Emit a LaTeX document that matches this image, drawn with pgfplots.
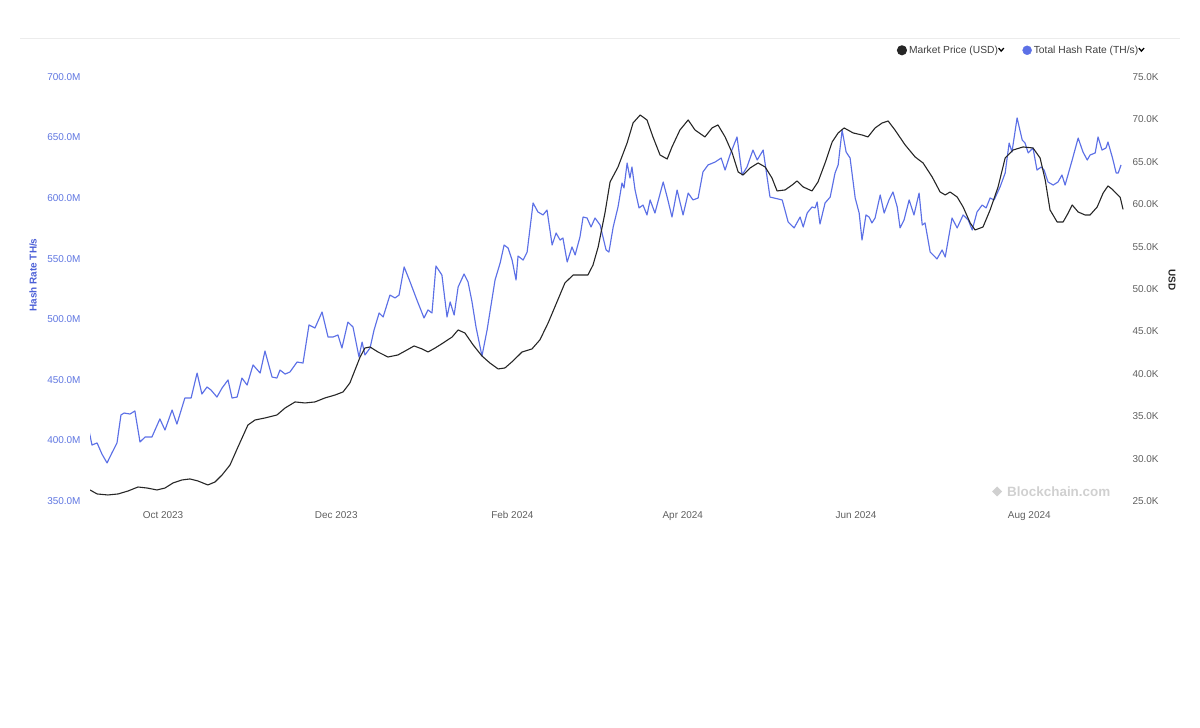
\documentclass[border=0pt]{standalone}
\usepackage{fontspec}
\setmainfont{Liberation Sans}
\usepackage{pgfplots}
\usepackage{pgfplotstable}
\pgfplotsset{compat=1.18}
\definecolor{hashblue}{RGB}{92,112,230}
\definecolor{ticklblue}{RGB}{95,118,225}
\definecolor{labblue}{RGB}{75,95,215}
\definecolor{tickgray}{RGB}{95,95,95}
\definecolor{rulegray}{RGB}{236,236,236}
\definecolor{wmgray}{RGB}{208,208,208}

% days since 1 Oct 2023, hash rate in millions of TH/s
\pgfplotstableread{
d m
-26.1 408.6
-25.0 396.2
-23.2 397.9
-21.5 388.8
-19.7 381.4
-18.0 389.6
-16.2 397.9
-14.8 421.0
-13.7 422.6
-11.6 421.8
-9.9 424.3
-8.1 398.7
-6.3 402.8
-3.9 402.8
-1.1 417.7
0.7 408.6
3.2 425.1
4.9 413.5
7.7 435.0
9.9 435.0
12.0 455.6
13.7 438.3
15.5 444.1
16.9 441.6
19.0 435.8
20.8 443.3
22.9 449.9
24.3 435.0
26.1 435.8
27.8 451.5
29.6 445.7
31.7 462.3
34.2 455.6
35.9 473.8
38.4 452.3
40.1 451.5
41.2 458.1
43.0 454.8
44.7 456.5
47.2 464.7
49.3 463.9
51.4 495.3
53.5 492.8
56.0 506.0
58.1 485.4
59.9 485.4
61.6 487.0
63.0 476.3
65.1 497.7
66.9 493.6
69.0 468.9
70.1 481.2
71.1 470.5
72.9 476.3
74.3 491.1
76.1 505.2
77.5 501.9
79.9 520.0
81.7 517.6
83.1 520.0
84.9 543.2
87.0 530.8
89.4 515.9
91.9 501.1
93.3 507.7
94.7 505.2
96.1 544.0
98.2 536.5
100.0 501.9
101.1 514.3
102.5 503.5
103.9 526.6
106.0 537.4
107.4 530.8
108.8 514.3
110.2 493.6
112.3 469.7
114.1 491.1
116.9 532.4
118.7 546.5
120.1 561.3
121.5 558.8
122.9 548.9
124.3 532.4
125.0 552.2
126.8 548.9
128.2 555.5
130.3 596.0
132.0 588.6
133.8 586.1
135.2 590.2
137.0 561.3
138.4 571.2
139.8 565.4
140.8 567.1
142.3 547.3
144.0 559.7
145.1 553.1
146.8 567.9
147.9 584.4
149.3 583.6
150.7 576.2
152.1 583.6
153.9 577.8
156.0 557.2
157.0 555.5
158.5 576.2
160.2 592.7
161.6 612.5
162.3 608.4
163.4 629.0
164.4 616.6
165.1 625.7
166.2 606.7
167.6 591.9
169.0 594.3
170.4 586.1
171.5 598.5
173.2 587.7
176.1 613.3
177.5 600.9
179.2 584.4
181.0 606.7
183.1 586.1
184.9 604.2
186.6 598.5
188.4 600.1
190.1 621.6
191.9 627.4
194.4 629.8
196.5 633.1
197.9 623.2
199.6 635.6
202.1 650.5
203.9 619.1
205.6 625.7
207.7 639.7
209.2 631.5
211.3 639.7
213.7 600.9
218.0 598.5
220.1 580.3
222.2 575.4
224.3 584.4
225.4 576.2
226.8 587.7
228.5 592.7
229.6 591.9
230.3 596.8
231.3 578.6
233.1 596.0
234.9 600.9
236.6 620.7
237.7 627.4
239.1 656.2
240.5 638.1
241.9 633.1
243.7 600.1
245.1 587.7
246.1 565.4
247.5 586.1
248.6 584.4
249.6 579.5
250.7 583.6
252.5 602.6
253.9 587.7
255.6 598.5
257.0 605.1
258.5 592.7
259.5 575.4
260.9 582.0
262.7 598.5
264.4 586.1
266.2 604.2
267.3 577.8
268.3 579.5
270.1 555.5
272.5 549.8
274.3 557.2
275.4 551.4
277.8 583.6
279.6 575.4
281.7 586.1
283.5 582.0
284.9 573.7
286.6 588.6
288.4 594.3
289.8 591.9
291.2 600.1
292.6 598.5
294.7 609.2
296.5 620.7
297.9 645.5
298.9 638.1
300.7 666.2
302.5 648.0
303.5 645.5
304.6 637.3
306.3 641.4
307.7 623.2
309.2 625.7
310.2 623.2
311.6 613.3
313.4 610.8
315.1 613.3
316.5 619.1
317.6 610.8
320.1 631.5
322.2 649.6
323.9 638.1
325.4 631.5
326.4 635.6
328.2 637.3
329.2 650.5
330.6 639.7
332.0 641.4
332.7 646.3
334.2 633.9
335.6 620.7
336.3 620.7
337.3 627.4
}\hashtable

% days since 1 Oct 2023, market price in thousands of USD
\pgfplotstableread{
d k
-25.7 26.30
-23.2 25.83
-19.4 25.71
-15.8 25.83
-12.3 26.18
-8.8 26.65
-5.6 26.53
-2.1 26.30
0.7 26.53
3.5 27.12
6.7 27.48
9.5 27.60
12.3 27.36
15.8 26.89
18.3 27.24
20.8 28.07
23.6 29.25
26.4 31.37
29.9 33.96
32.4 34.55
35.9 34.79
40.1 35.14
43.0 35.97
46.5 36.68
50.0 36.56
53.5 36.68
57.0 37.15
60.6 37.50
63.4 37.86
65.8 38.92
67.6 40.45
69.4 41.98
71.1 43.04
72.9 43.16
75.7 42.57
79.2 41.98
82.7 42.22
85.9 42.81
88.4 43.28
91.2 42.93
93.3 42.57
95.8 43.04
98.6 43.63
101.8 44.34
103.9 45.17
106.3 44.81
109.2 43.40
112.3 42.10
115.1 41.27
118.0 40.57
120.4 40.69
123.2 41.51
126.4 42.57
129.9 42.93
132.7 44.00
135.6 46.00
138.7 48.47
141.5 50.71
144.4 51.65
147.5 51.65
149.6 51.65
151.4 52.83
153.2 54.95
155.6 58.96
157.4 62.62
160.2 64.39
163.4 67.22
165.5 69.58
168.0 70.52
170.4 69.93
172.5 67.93
175.0 65.80
177.5 65.33
179.2 66.75
182.0 68.75
184.9 69.93
187.3 68.75
190.8 67.93
193.3 68.99
195.4 69.34
197.9 67.93
200.4 66.04
202.5 63.80
204.2 63.44
206.7 64.27
209.5 64.86
212.0 64.39
214.4 63.09
216.2 61.56
219.0 61.68
221.5 62.26
223.2 62.74
225.4 62.03
228.5 61.56
230.6 62.62
233.1 64.86
235.6 67.34
237.7 68.40
239.8 68.99
243.0 68.40
246.1 68.16
248.2 67.93
250.7 68.99
253.2 69.58
255.3 69.81
257.7 68.75
261.3 66.98
264.8 65.57
267.6 64.86
270.8 63.21
273.6 61.44
275.4 61.09
277.1 61.44
279.6 60.85
281.7 59.67
284.2 57.78
285.9 56.96
288.7 57.31
291.2 59.32
294.0 62.03
296.5 65.45
299.3 66.39
302.8 66.75
306.3 66.63
308.8 65.45
310.6 62.85
312.3 59.32
314.8 57.90
316.9 57.90
318.7 58.96
320.1 59.91
322.2 59.08
324.6 58.73
326.4 58.73
328.9 59.67
331.0 61.32
332.7 62.15
334.2 61.76
337.0 60.81
338.0 59.39
}\pricetable

\newcommand{\chev}{\raisebox{1.5bp}{\tikz\draw[line width=1.3bp,black] (0,3bp)--(2.6bp,0)--(5.2bp,3bp);}}

\pgfplotsset{
  common/.style={
    scale only axis, width=1035bp, height=424bp,
    at={(90bp,227bp)}, anchor=south west,
    xmin=-25.7, xmax=338.7,
    axis line style={draw=none},
    major tick length=0pt,
    tick label style={font=\fontsize{10}{12}\selectfont},
  }
}

\begin{document}
\begin{tikzpicture}[x=1bp,y=1bp]
\path[use as bounding box] (0,0) rectangle (1200,728);
\draw[line width=0.8bp, rulegray] (20,690) -- (1180,690);

% watermark
\fill[wmgray] (997,241.5) -- (1002,236.5) -- (997,231.5) -- (992,236.5) -- cycle;
\node[anchor=west, text=wmgray, font=\bfseries\fontsize{13.5}{15}\selectfont, inner sep=0pt] at (1007,236.5) {Blockchain.com};

\begin{axis}[common,
  ymin=350, ymax=700,
  ytick={350,400,...,700},
  yticklabel={\pgfmathprintnumber[fixed,fixed zerofill,precision=1,assume math mode=true]{\tick}M},
  yticklabel style={text=ticklblue, xshift=-6bp},
  xtick={0,61,123,183,244,305},
  xticklabels={Oct 2023,Dec 2023,Feb 2024,Apr 2024,Jun 2024,Aug 2024},
  xticklabel style={text=tickgray, yshift=-7bp},
]
\addplot[hashblue, line width=1.15bp, line join=round] table[x=d,y=m] {\hashtable};
\end{axis}

\begin{axis}[common,
  axis y line*=right, axis x line=none,
  ymin=25, ymax=75,
  ytick={25,30,...,75},
  yticklabel={\pgfmathprintnumber[fixed,fixed zerofill,precision=1,assume math mode=true]{\tick}K},
  yticklabel style={text=tickgray, xshift=4bp},
  legend columns=2,
  legend style={draw=none, fill=none, at={(1.024,1.063)}, anchor=east,
    font=\fontsize{10.3}{12}\selectfont, text=black!75,
    /tikz/every even column/.append style={column sep=16bp},
    legend cell align=left},
  legend image code/.code={\fill[#1] (1bp,0bp) circle (4.5bp);},
]
\addplot[black!85, line width=1.1bp, line join=round] table[x=d,y=k] {\pricetable};
\addlegendentry{Market Price (USD)\chev}
\addlegendimage{hashblue}
\addlegendentry{Total Hash Rate (TH/s)\chev}
\end{axis}

\node[rotate=90, text=labblue, font=\bfseries\fontsize{10}{12}\selectfont] at (33,453) {Hash Rate TH/s};
\node[rotate=-90, text=black!85, font=\bfseries\fontsize{10}{12}\selectfont] at (1172,448) {USD};
\end{tikzpicture}
\end{document}
